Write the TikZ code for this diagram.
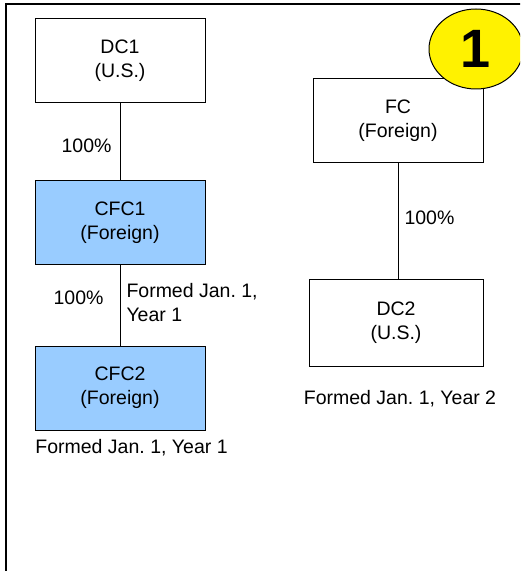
\documentclass[tikz,border=0pt]{standalone}
\usepackage{fontspec}
\setmainfont{Liberation Sans}
\usetikzlibrary{shapes.geometric}
\usepackage{xcolor}
\definecolor{cfcblue}{HTML}{99CCFF}
\frenchspacing
\tikzset{entity/.style={rectangle,draw=black,line width=0.5pt,minimum width=85pt,minimum height=42pt,inner sep=0pt,align=center}}
\tikzset{cfc/.style={entity,fill=cfcblue}}
\tikzset{pct/.style={inner sep=0pt,align=left}}

\begin{document}
\begin{tikzpicture}[x=0.5pt,y=-0.5pt,font=\fontsize{9.75pt}{12pt}\selectfont]
\useasboundingbox (0,0) rectangle (520,571);
\clip (0,0) rectangle (520,571);
% \draw[help lines] (0,0) grid (520,571);
\draw[line width=1pt] (6,590) -- (6,4.5) -- (540,4.5);
%
\node (dc1) [entity] at (120,61) {DC1\\(U.S.)};
\node (cfc1) [cfc] at (120,222.5) {CFC1\\(Foreign)};
\node (cfc2) [cfc] at (120,388) {CFC2\\(Foreign)};
\node (fc) [entity] at (398,121) {FC\\(Foreign)};
\node (dc2) [entity,minimum width=87pt,minimum height=43.5pt] at (396,322.5) {DC2\\(U.S.)};
%
\path[line width=0.5pt](dc1) edge node[pct,left=4pt,pos=0.55] {100\%} (cfc1);
\path[line width=0.5pt](cfc1) edge node[pct,left=8pt,pos=0.41] {100\%}
  node[pct,right=3pt,pos=0.46] {Formed Jan. 1,\\Year 1} (cfc2);
\path[line width=0.5pt](fc) edge node[pct,right=3pt,pos=0.47] {100\%} (fc.south |- dc2.north);
%
\node (note1) [pct,anchor=west] at (35,448) {Formed Jan. 1, Year 1};
\node (note2) [pct] at (400,399) {Formed Jan. 1, Year 2};
%
\node (badge) [ellipse,draw=black,fill=yellow,line width=0.5pt,minimum width=47pt,minimum height=40pt,inner sep=0pt,
  font=\bfseries\fontsize{27pt}{27pt}\selectfont] at (476,49) {1};
\end{tikzpicture}
\end{document}
